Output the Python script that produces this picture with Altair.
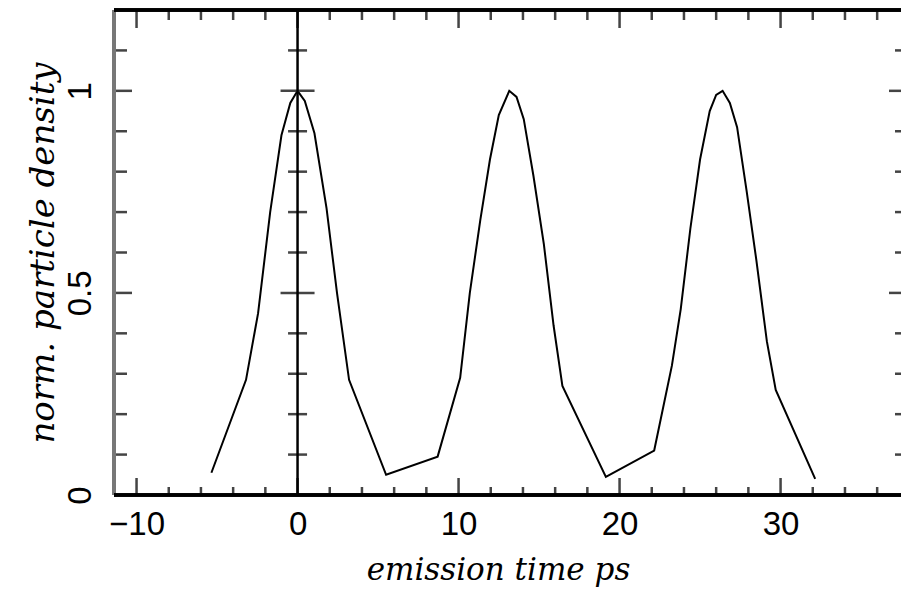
import altair as alt
import pandas as pd

# ---- data ----
time_ps = [-5.35, -3.2, -2.45, -1.7, -1.0, -0.45, 0.0, 0.45, 1.05, 1.8, 2.45, 3.2,
           5.5, 8.7,
           10.1, 10.7, 11.35, 11.95, 12.5, 13.15, 13.6, 14.05, 14.65, 15.3, 15.9, 16.45,
           19.15, 22.15,
           23.25, 23.8, 24.4, 25.0, 25.6, 26.0, 26.4, 26.85, 27.3, 27.9, 28.5, 29.15, 29.7,
           32.15]
density = [0.055, 0.285, 0.45, 0.70, 0.89, 0.97, 1.0, 0.975, 0.895, 0.71, 0.50, 0.285,
           0.05, 0.095,
           0.29, 0.50, 0.68, 0.83, 0.94, 1.0, 0.985, 0.93, 0.79, 0.62, 0.42, 0.27,
           0.045, 0.11,
           0.32, 0.46, 0.66, 0.83, 0.95, 0.99, 1.0, 0.97, 0.91, 0.75, 0.58, 0.38, 0.26,
           0.04]

x_label_ticks = [-10, 0, 10, 20, 30]
x_minor_ticks = [-8, -6, -4, -2, 2, 4, 6, 8, 12, 14, 16, 18, 22, 24, 26, 28, 32, 34, 36]
y_label_ticks = [0, 0.5, 1]
y_major_ticks = [0.5, 1.0]
y_minor_ticks = [0.1, 0.2, 0.3, 0.4, 0.6, 0.7, 0.8, 0.9, 1.1]

X_DOMAIN = [-11.4, 37.48]
Y_DOMAIN = [0, 1.2]
W, H = 787, 485

df = pd.DataFrame({"t": time_ps, "v": density})
xmaj = pd.DataFrame({"t": x_label_ticks})
xmin = pd.DataFrame({"t": x_minor_ticks})
ymaj = pd.DataFrame({"v": y_major_ticks, "t": [0] * len(y_major_ticks)})
ymin = pd.DataFrame({"v": y_minor_ticks, "t": [0] * len(y_minor_ticks)})

xs = alt.Scale(domain=X_DOMAIN, nice=False, zero=False)
ys = alt.Scale(domain=Y_DOMAIN, nice=False)

XA = alt.Axis(values=x_label_ticks, format="d", ticks=False, domain=False,
              grid=False, labelFont="Liberation Sans", labelFontSize=33,
              labelColor="black", labelPadding=13,
              title="emission time ps", titleFont="DejaVu Serif",
              titleFontStyle="italic", titleFontWeight="normal",
              titleFontSize=31, titleColor="black",
              titleX=384, titleY=75, titleAlign="center",
              titleBaseline="middle")
YA = alt.Axis(values=y_label_ticks, format="~g", ticks=False, domain=False,
              grid=False, labelFont="Liberation Sans", labelFontSize=33,
              labelColor="black", labelAngle=270, labelAlign="center",
              labelBaseline="alphabetic", labelPadding=24,
              title="norm. particle density", titleFont="DejaVu Serif",
              titleFontStyle="italic", titleFontWeight="normal",
              titleFontSize=34, titleColor="black",
              titleX=-71, titleY=H / 2, titleAlign="center",
              titleBaseline="middle", titleAngle=270)

X = lambda: alt.X("t:Q", scale=xs, axis=XA)
Y = lambda: alt.Y("v:Q", scale=ys, axis=YA)

TICK = "#444444"

line = alt.Chart(df).mark_line(color="black", strokeWidth=2).encode(x=X(), y=Y())

# frame lines (top, bottom, left)
frame_top = alt.Chart(xmaj).mark_rule(color="black", strokeWidth=3).encode(
    x=alt.value(0), x2=alt.value(W + 2), y=alt.value(0))
frame_bottom = alt.Chart(xmaj).mark_rule(color="black", strokeWidth=3).encode(
    x=alt.value(0), x2=alt.value(W + 2), y=alt.value(H))
frame_left = alt.Chart(xmaj).mark_rule(color="#777777", strokeWidth=4).encode(
    x=alt.value(0), y=alt.value(0), y2=alt.value(H))

# vertical line at t = 0
zero_line = alt.Chart(ymaj).mark_rule(color="black", strokeWidth=2).encode(
    x=X(), y=alt.value(0), y2=alt.value(H))

def xticks(data, length, top):
    if top:
        enc = dict(y=alt.value(0), y2=alt.value(length))
    else:
        enc = dict(y=alt.value(H), y2=alt.value(H - length))
    return alt.Chart(data).mark_rule(color=TICK, strokeWidth=2.5).encode(x=X(), **enc)

def yticks(data, length, right):
    if right:
        enc = dict(x=alt.value(W), x2=alt.value(W - length))
    else:
        enc = dict(x=alt.value(0), x2=alt.value(length))
    return alt.Chart(data).mark_rule(color=TICK, strokeWidth=2.5).encode(y=Y(), **enc)

def zticks(data, half):
    return alt.Chart(data).mark_rule(color=TICK, strokeWidth=2.5,
                                     xOffset=-half, x2Offset=half).encode(
        x=X(), x2="t:Q", y=Y())

chart = alt.layer(
    line,
    xticks(xmaj, 17, False), xticks(xmin, 8, False),
    xticks(xmaj, 18, True), xticks(xmin, 10, True),
    yticks(ymaj, 18, False), yticks(ymin, 13, False),
    yticks(ymaj, 12, True), yticks(ymin, 6, True),
    zticks(ymaj, 17), zticks(ymin, 9.5),
    zero_line,
    frame_left, frame_top, frame_bottom,
).properties(
    width=W, height=H,
    padding={"left": 106, "top": 2, "right": 0, "bottom": 100},
    autosize=alt.AutoSizeParams(type="none"),
).configure_view(stroke=None).configure(background="white")

chart.save("out.html", embed_options={"renderer": "svg", "actions": False})
